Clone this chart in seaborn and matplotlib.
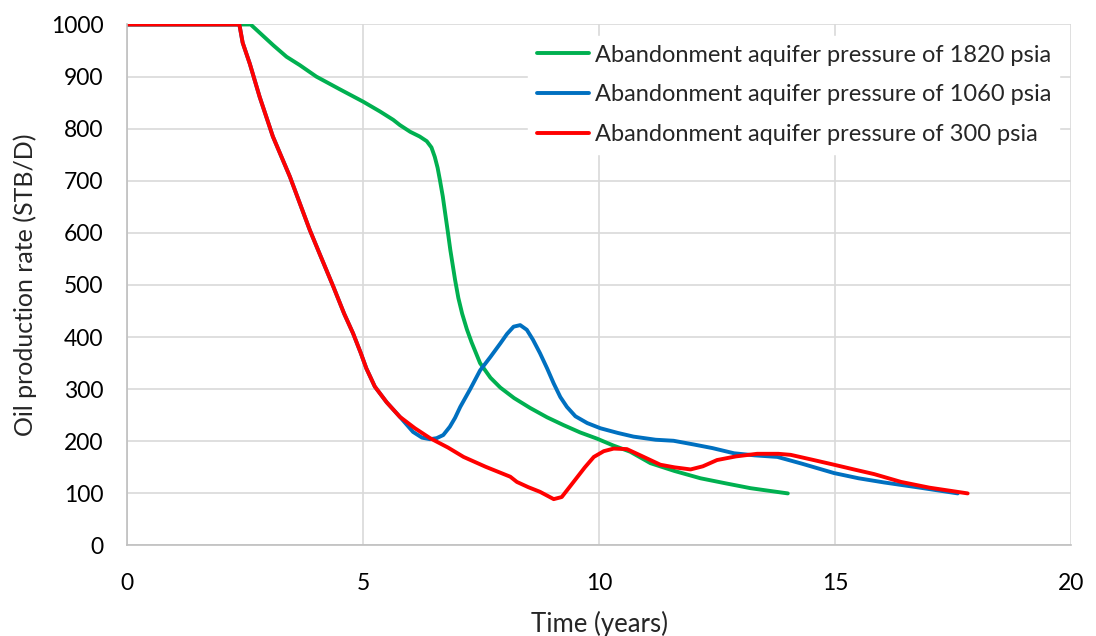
import pandas as pd
import numpy as np
import seaborn as sns
import matplotlib.pyplot as plt

# Data (time in years, rate in STB/D)
t_1820 = [0, 2.62, 2.8, 3.1, 3.38, 3.66, 4.01, 4.5, 5.0, 5.36, 5.64, 5.78, 6.0, 6.2, 6.35,
          6.45, 6.52, 6.58, 6.63, 6.69, 6.74, 6.8, 6.85, 6.95, 7.02, 7.1, 7.2, 7.3, 7.48,
          7.7, 7.91, 8.2, 8.54, 8.9, 9.25, 9.6, 9.96, 10.3, 10.66, 11.09, 11.6, 12.15,
          12.7, 13.21, 13.6, 14.0]
q_1820 = [1000, 1000, 985, 960, 938, 922, 900, 876, 852, 833, 817, 807, 794, 785, 776,
          764, 746, 725, 701, 670, 638, 600, 567, 510, 475, 445, 415, 390, 350,
          322, 303, 283, 264, 246, 231, 217, 205, 192, 180, 158, 143, 129,
          119, 110, 105, 100]

t_1060 = [0, 2.38, 2.45, 2.6, 2.81, 3.09, 3.45, 3.87, 4.08, 4.37, 4.6, 4.79, 4.95, 5.07,
          5.25, 5.5, 5.78, 6.06, 6.25, 6.42, 6.56, 6.70, 6.84, 6.95, 7.06, 7.27, 7.48, 7.7,
          7.91, 8.05, 8.19, 8.33, 8.47, 8.6, 8.75, 8.9, 9.04, 9.18, 9.32, 9.5, 9.75, 10.03,
          10.4, 10.73, 11.2, 11.58, 12.0, 12.4, 12.86, 13.3, 13.78, 14.3, 14.98, 15.5,
          16.04, 16.8, 17.6]
q_1060 = [1000, 1000, 965, 925, 861, 785, 708, 606, 560, 497, 445, 407, 370, 340,
          305, 275, 247, 218, 207, 204, 206, 212, 228, 245, 266, 300, 336, 362,
          388, 406, 420, 423, 414, 395, 369, 340, 311, 285, 266, 248, 235, 225,
          216, 209, 203, 201, 194, 187, 177, 173, 170, 157, 139, 129,
          121, 111, 100]

t_300 = [0, 2.38, 2.45, 2.6, 2.81, 3.09, 3.45, 3.87, 4.08, 4.37, 4.6, 4.79, 4.95, 5.07,
         5.25, 5.5, 5.78, 6.1, 6.42, 6.8, 7.13, 7.6, 8.12, 8.26, 8.5, 8.75, 9.04, 9.21,
         9.46, 9.7, 9.89, 10.1, 10.31, 10.59, 10.9, 11.3, 11.6, 11.94, 12.2, 12.5, 12.9,
         13.35, 13.8, 14.06, 14.5, 14.98, 15.4, 15.83, 16.4, 17.0, 17.81]
q_300 = [1000, 1000, 965, 925, 861, 785, 708, 606, 560, 497, 445, 407, 370, 340,
         305, 275, 247, 225, 206, 188, 170, 151, 132, 122, 112, 103, 89, 93,
         122, 150, 170, 181, 186, 185, 172, 155, 150, 146, 152, 164, 171,
         176, 176, 174, 165, 155, 146, 137, 122, 111, 100]

labels = ['Abandonment aquifer pressure of 1820 psia',
          'Abandonment aquifer pressure of 1060 psia',
          'Abandonment aquifer pressure of 300 psia']
colors = ['#00B050', '#0070C0', '#FF0000']

frames = []
for lab, t, q in zip(labels, [t_1820, t_1060, t_300], [q_1820, q_1060, q_300]):
    frames.append(pd.DataFrame({'time': t, 'rate': q, 'case': lab}))
df = pd.concat(frames, ignore_index=True)

sns.set_style('white')
plt.rcParams['font.family'] = ['Lato', 'DejaVu Sans']

fig = plt.figure(figsize=(10.96, 6.36), dpi=100)
ax = fig.add_axes([0.1159, 0.1423, 0.8613, 0.8192])

sns.lineplot(data=df, x='time', y='rate', hue='case', hue_order=labels,
             palette=colors, estimator=None, sort=False, linewidth=2.8, ax=ax)
for line in ax.get_lines():
    line.set_solid_joinstyle('round')
    line.set_solid_capstyle('round')

ax.set_xlim(0, 20)
ax.set_ylim(0, 1000)
ax.set_xticks(range(0, 21, 5))
ax.set_yticks(range(0, 1001, 100))
ax.grid(True, color='#D9D9D9', linewidth=1.2)
ax.set_axisbelow(True)
for s in ['top', 'right']:
    ax.spines[s].set_visible(False)
for s in ['left', 'bottom']:
    ax.spines[s].set_color('#BFBFBF')
    ax.spines[s].set_linewidth(1.2)
ax.tick_params(axis='both', length=0, labelsize=16.5, colors='black')
ax.tick_params(axis='x', pad=20)
ax.tick_params(axis='y', pad=17)

ax.set_xlabel('Time (years)', fontsize=18.5, labelpad=12)
ax.set_ylabel('Oil production rate (STB/D)', fontsize=18, labelpad=10)

leg = ax.legend(loc='upper right', bbox_to_anchor=(1.0, 1.0), fontsize=17,
                frameon=True, fancybox=False, handlelength=2.2, handletextpad=0.25,
                labelspacing=0.8, borderpad=0.35)
leg.get_frame().set_facecolor('white')
leg.get_frame().set_edgecolor('white')
leg.get_frame().set_alpha(1)
for h in leg.get_lines():
    h.set_linewidth(2.8)

fig.savefig('out.png', dpi=100)
